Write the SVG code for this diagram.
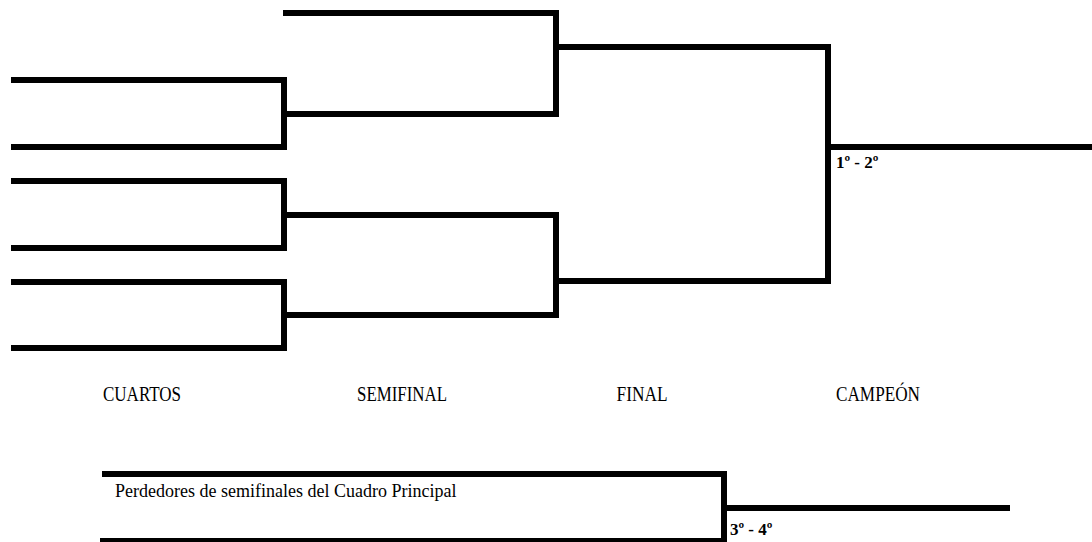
<svg xmlns="http://www.w3.org/2000/svg" width="1092" height="542" viewBox="0 0 1092 542">
<style>
.ln{fill:none;stroke:#000;stroke-width:6;stroke-linejoin:miter;stroke-linecap:butt}
.lbl{font-family:"Liberation Serif","Times New Roman",serif;font-size:18px;fill:#000}
.hd{font-size:22px}
.b{font-weight:bold;font-size:17px}
</style>
<rect width="1092" height="542" fill="#fff"/>
<g id="connectors">
<path class="ln" d="M11,80 H284 V147 H11"/>
<path class="ln" d="M11,181 H284 V248 H11"/>
<path class="ln" d="M11,282 H284 V348 H11"/>
<path class="ln" d="M283,13 H556 V114 H284"/>
<path class="ln" d="M284,215 H556 V315 H284"/>
<path class="ln" d="M556,47 H828 V281 H556"/>
<path class="ln" d="M828,147 H1092"/>
<path class="ln" d="M102,474 H724 V541 H100"/>
<path class="ln" d="M724,508 H1010"/>
</g>
<g id="labels">
<text id="cuartos" class="lbl hd" x="142" y="401" text-anchor="middle" textLength="78" lengthAdjust="spacingAndGlyphs">CUARTOS</text>
<text id="semifinal" class="lbl hd" x="402" y="401" text-anchor="middle" textLength="90" lengthAdjust="spacingAndGlyphs">SEMIFINAL</text>
<text id="final" class="lbl hd" x="642" y="401" text-anchor="middle" textLength="51" lengthAdjust="spacingAndGlyphs">FINAL</text>
<text id="campeon" class="lbl hd" x="878" y="401" text-anchor="middle" textLength="84" lengthAdjust="spacingAndGlyphs">CAMPEÓN</text>
<text id="p12" class="lbl b" x="836" y="168">1º - 2º</text>
<text id="perdedores" class="lbl" x="115" y="497">Perdedores de semifinales del Cuadro Principal</text>
<text id="p34" class="lbl b" x="730" y="535">3º - 4º</text>
</g>
</svg>
